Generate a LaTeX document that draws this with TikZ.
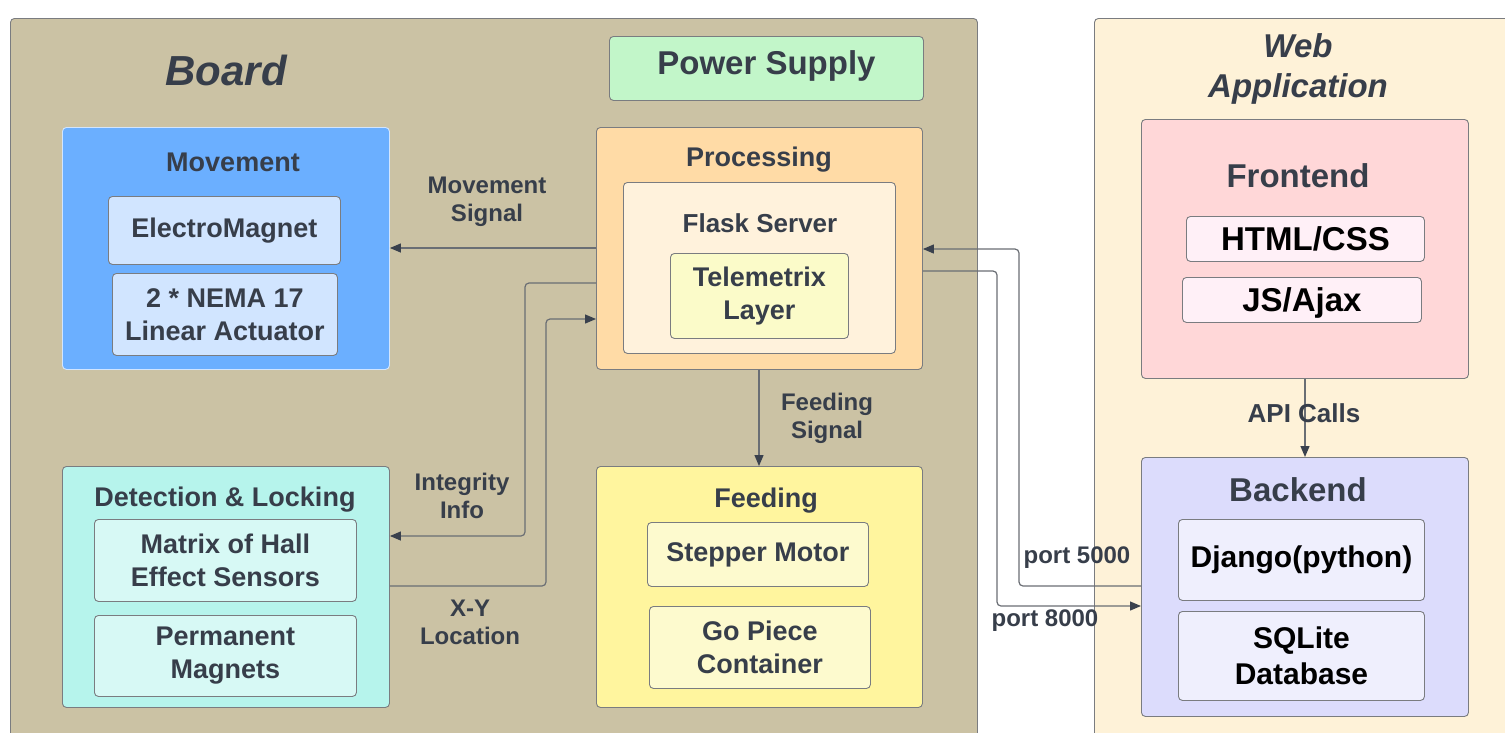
\documentclass[tikz,border=0pt]{standalone}
\usepackage{fontspec}
\setmainfont{Liberation Sans}
\usetikzlibrary{arrows.meta}

\definecolor{ink}{HTML}{373E4A}
\definecolor{edge}{HTML}{7A7C80}
\definecolor{wire}{HTML}{6A6E74}
\definecolor{tip}{HTML}{3A414D}
\definecolor{boardc}{HTML}{CBC2A4}
\definecolor{powerc}{HTML}{C2F6C9}
\definecolor{movc}{HTML}{6BAFFF}
\definecolor{movin}{HTML}{D1E5FF}
\definecolor{procc}{HTML}{FFDBA6}
\definecolor{flaskc}{HTML}{FFF2DC}
\definecolor{telec}{HTML}{FBFBC9}
\definecolor{detc}{HTML}{B6F4EC}
\definecolor{detin}{HTML}{D7F9F5}
\definecolor{feedc}{HTML}{FFF59E}
\definecolor{feedin}{HTML}{FDFACE}
\definecolor{webc}{HTML}{FEF2D8}
\definecolor{frontc}{HTML}{FFD7D8}
\definecolor{frontin}{HTML}{FFF0F7}
\definecolor{backc}{HTML}{DCDCFC}
\definecolor{backin}{HTML}{EFEFFD}

\newcommand\txt[2]{\fontsize{#1}{#2}\selectfont\bfseries}

\tikzset{
  blk/.style={draw=edge, line width=0.9pt, rounded corners=4pt, anchor=north west,
    inner sep=0pt, align=center, text=ink, font=\txt{27}{33}},
  title/.style={inner sep=0pt, align=center, text=ink, font=\txt{27}{33}},
  bigtitle/.style={inner sep=0pt, align=center, text=ink, font=\txt{33}{40}},
  lbl/.style={inner sep=0pt, align=center, text=ink, font=\txt{24}{28}},
  conn/.style={draw=wire, line width=1.2pt, rounded corners=4pt},
  arr/.style={conn, -{Triangle[length=11pt,width=9pt,color=tip]}},
}

\begin{document}
\begin{tikzpicture}[x=1pt, y=-1pt]
\useasboundingbox (0,0) rectangle (1505,732);
\fill[white] (0,0) rectangle (1505,732);

\begin{scope}
\clip (0,0) rectangle (1505,732);
% the two outer groups run off the page at the bottom and right
\node[blk, fill=boardc, minimum width=967pt, minimum height=760pt] (board) at (10,18) {};
\node[blk, fill=webc, minimum width=450pt, minimum height=760pt] (web) at (1094,18) {};
\end{scope}

\node[inner sep=0pt, text=ink, font=\txt{42}{50}\itshape] (boardT) at (226,70) {Board};
\node[bigtitle, font=\txt{33}{40}\itshape] (webT) at (1298,69) {Web\\Application};

% board side
\node[blk, fill=powerc, minimum width=314pt, minimum height=64pt, font=\txt{33}{40}, text depth=11pt] (power) at (609,36) {Power Supply};

\node[blk, fill=movc, draw=movin, minimum width=327pt, minimum height=242pt] (movement) at (62,127) {};
\node[title] (movementT) at (233,162) {Movement};
\node[blk, fill=movin, minimum width=232pt, minimum height=68pt] (magnet) at (108,196) {ElectroMagnet};
\node[blk, fill=movin, minimum width=225pt, minimum height=82pt] (nema) at (112,273) {2 * NEMA 17\\Linear Actuator};

\node[blk, fill=procc, minimum width=326pt, minimum height=242pt] (processing) at (596,127) {};
\node[title] (processingT) at (759,160) {Processing};
\node[blk, fill=flaskc, minimum width=272pt, minimum height=171pt] (flask) at (623,182) {};
\node[title, font=\txt{26}{32}] (flaskT) at (760,223) {Flask Server};
\node[blk, fill=telec, minimum width=178pt, minimum height=85pt] (telemetrix) at (670,253) {Telemetrix\\Layer};

\node[blk, fill=detc, minimum width=327pt, minimum height=241pt] (detection) at (62,466) {};
\node[title] (detectionT) at (225,500) {Detection \& Locking};
\node[blk, fill=detin, minimum width=262pt, minimum height=82pt] (hall) at (94,519) {Matrix of Hall\\Effect Sensors};
\node[blk, fill=detin, minimum width=262pt, minimum height=81pt] (magnets) at (94,615) {Permanent\\Magnets};

\node[blk, fill=feedc, minimum width=326pt, minimum height=241pt] (feeding) at (596,466) {};
\node[title] (feedingT) at (766,501) {Feeding};
\node[blk, fill=feedin, minimum width=221pt, minimum height=64pt] (stepper) at (647,522) {Stepper Motor};
\node[blk, fill=feedin, minimum width=221pt, minimum height=82pt] (container) at (649,606) {Go Piece\\Container};

% web side
\node[blk, fill=frontc, minimum width=327pt, minimum height=259pt] (frontend) at (1141,119) {};
\node[bigtitle] (frontendT) at (1298,176) {Frontend};
\node[blk, fill=frontin, text=black, font=\txt{33}{40}, minimum width=238pt, minimum height=45pt] (html) at (1186,216) {HTML/CSS};
\node[blk, fill=frontin, text=black, font=\txt{33}{40}, text depth=1pt, minimum width=239pt, minimum height=45pt] (js) at (1182,277) {JS/Ajax};

\node[blk, fill=backc, minimum width=327pt, minimum height=259pt] (backend) at (1141,457) {};
\node[bigtitle] (backendT) at (1298,490) {Backend};
\node[blk, fill=backin, text=black, font=\txt{30}{36}, minimum width=246pt, minimum height=81pt] (django) at (1178,519) {Django(python)};
\node[blk, fill=backin, text=black, font=\txt{30}{36}, minimum width=246pt, minimum height=89pt] (sqlite) at (1178,611) {SQLite\\Database};

% connectors
\draw[arr] (processing.west |- 0,248) -- (movement.east |- 0,248);
\node[lbl] (movLbl) at (487,202) {Movement\\Signal};

\draw[arr] (processing.west |- 0,283) -- (525,283) -- (525,536) -- (detection.east |- 0,536);
\node[lbl] (intLbl) at (462,496) {Integrity\\Info};

\draw[arr] (detection.east |- 0,586) -- (546,586) -- (546,319) -- (processing.west |- 0,319);
\node[lbl] (xyLbl) at (470,622) {X-Y\\Location};

\draw[arr] (processing.south -| 759,0) -- (feeding.north -| 759,0);
\node[lbl] (feedLbl) at (827,418) {Feeding\\Signal};

\draw[arr] (frontend.south -| 1305,0) -- (backend.north -| 1305,0);
\node[lbl, font=\txt{26}{30}] (apiLbl) at (1304,413) {API Calls};

\draw[arr] (backend.west |- 0,586) -- (1019,586) -- (1019,249) -- (processing.east |- 0,249);
\node[lbl] (p5Lbl) at (1077,558) {port 5000};

\draw[arr] (processing.east |- 0,271) -- (997,271) -- (997,606) -- (backend.west |- 0,606);
\node[lbl] (p8Lbl) at (1045,621) {port 8000};
\end{tikzpicture}
\end{document}
